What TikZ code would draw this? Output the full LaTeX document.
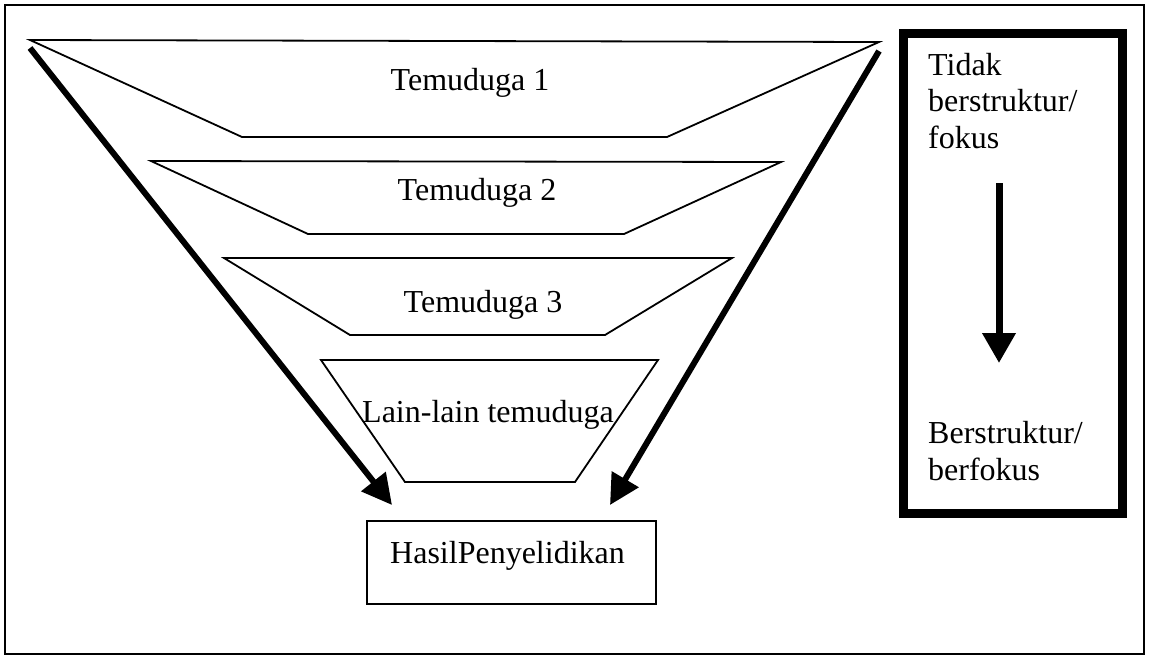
\documentclass[tikz,border=0pt]{standalone}
\usepackage{fontspec}
\setmainfont{Liberation Serif}
\usetikzlibrary{arrows.meta}
\begin{document}
\begin{tikzpicture}[x=1pt,y=-1pt,
  lbl/.style={font=\fontsize{32}{37}\selectfont, inner sep=0pt},
  funnel/.style={draw=black, line width=1.8pt, line join=miter},
  bigarrow/.style={line width=6pt, -{Triangle[length=30pt,width=30pt]}},
  frame/.style={draw=black, line width=1.8pt}]
\useasboundingbox (0,0) rectangle (1149,657);
\fill[white] (0,0) rectangle (1149,657);
% outer frame
\draw[frame] (5,5) rectangle (1144,654);
% funnel layers
\draw[funnel] (30,40) -- (879,42) -- (667,137) -- (242,137) -- cycle;
\draw[funnel] (151,161) -- (781,162) -- (624,234) -- (308,234) -- cycle;
\draw[funnel] (224,258) -- (732,258) -- (605,335) -- (350,335) -- cycle;
\draw[funnel] (321,360) -- (658,360) -- (575,482) -- (405,482) -- cycle;
\node[lbl, anchor=base] (t1) at (470,90) {Temuduga 1};
\node[lbl, anchor=base] (t2) at (477,200) {Temuduga 2};
\node[lbl, anchor=base] (t3) at (483,312) {Temuduga 3};
\node[lbl, anchor=base west] (t4) at (362,422) {Lain-lain temuduga};
% result box
\node[draw=black, line width=2.4pt, minimum width=289pt, minimum height=83pt, inner sep=0pt] (hasil) at (511.5,562.5) {};
\node[lbl, anchor=base west] (hasiltxt) at (390,563) {HasilPenyelidikan};
% big arrows
\coordinate (la) at (30,48);
\coordinate (lb) at (392,505);
\coordinate (ra) at (879,51);
\coordinate (rb) at (610,505);
\draw[bigarrow] (la) -- (lb);
\draw[bigarrow] (ra) -- (rb);
% right box
\node[draw=black, line width=9pt, minimum width=219pt, minimum height=480pt, inner sep=0pt] (scale) at (1012.5,273) {};
\node[lbl, anchor=base west] (s1) at (928,75) {Tidak};
\node[lbl, anchor=base west] (s2) at (928,111) {berstruktur/};
\node[lbl, anchor=base west] (s3) at (928,148) {fokus};
\node[lbl, anchor=base west] (s4) at (928,443) {Berstruktur/};
\node[lbl, anchor=base west] (s5) at (928,480) {berfokus};
\coordinate (da) at (999,183);
\coordinate (db) at (999,363);
\draw[line width=7pt, -{Triangle[length=30pt,width=32pt]}] (da) -- (db);
\end{tikzpicture}
\end{document}
